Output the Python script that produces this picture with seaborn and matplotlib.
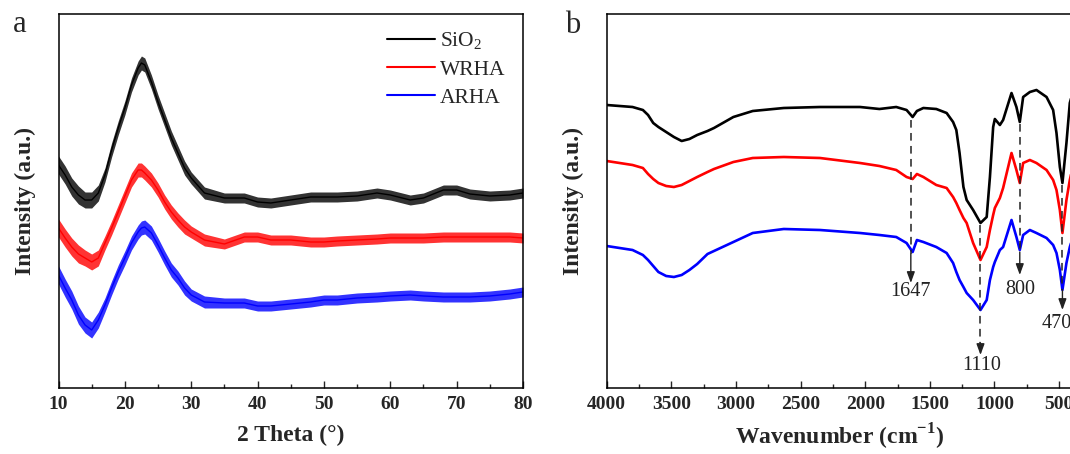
import numpy as np
import matplotlib
matplotlib.use('Agg')
import matplotlib.pyplot as plt
import seaborn as sns
from matplotlib.ticker import MultipleLocator

sns.set_theme(style='ticks')
plt.rcParams['font.family'] = ['Liberation Serif', 'DejaVu Serif']
plt.rcParams['mathtext.fontset'] = 'custom'
plt.rcParams['mathtext.rm'] = 'Liberation Serif'
plt.rcParams['mathtext.bf'] = 'Liberation Serif:bold'

# ---- XRD (panel a), intensity in arbitrary units ----
two_theta = [10, 11, 12, 13, 14, 15, 16, 17, 18, 19, 20, 21, 22, 22.5, 23, 24, 25, 26, 27, 28,
             29, 30, 32, 35, 38, 40, 42, 45, 48, 50, 52, 55, 58, 60, 63, 65, 68, 70, 72, 75,
             78, 80]
xrd_sio2 = [223, 213, 201, 193, 188, 188, 195, 213, 238, 260, 280, 303, 320, 325, 323, 306, 286, 268, 250, 235,
            220, 210, 195, 190, 190, 186, 185, 188, 191, 191, 191, 192, 195, 193, 188, 190, 198, 198, 194, 192,
            193, 195]
xrd_wrha = [160, 150, 141, 134, 130, 126, 130, 145, 160, 176, 192, 208, 218, 218, 215, 208, 198, 186, 176, 168,
            161, 156, 148, 144, 151, 151, 148, 148, 146, 146, 147, 148, 149, 150, 150, 150, 151, 151, 151, 151,
            151, 150]
xrd_arha = [113, 100, 88, 73, 63, 58, 68, 83, 100, 116, 130, 145, 156, 160, 161, 155, 143, 130, 118, 110,
            100, 93, 86, 85, 85, 82, 82, 84, 86, 88, 88, 90, 91, 92, 93, 92, 91, 91, 91, 92,
            94, 96]
# half height of the noisy band around each trace
xrd_spread = [9, 9, 9, 9, 8, 8, 8, 7, 7, 7, 7, 7, 7, 7, 7, 7, 7, 7, 7, 7,
              7, 6, 6, 5, 5, 5, 5, 5, 5, 5, 5, 5, 5, 5, 5, 5, 5, 5, 5, 5,
              5, 5]

# ---- FTIR (panel b) ----
wavenumber = [4000, 3800, 3720, 3680, 3640, 3600, 3540, 3480, 3420, 3360,
              3300, 3220, 3170, 3020, 2870, 2630, 2350, 2040, 1890, 1760,
              1680, 1633, 1600, 1550, 1450, 1370, 1320, 1295, 1270, 1240,
              1215, 1165, 1108, 1060, 1035, 1010, 997, 958, 933, 868,
              830, 804, 778, 726, 675, 597, 546, 520, 494, 474,
              443, 417, 400]
ftir_sio2 = [283, 281, 278, 273, 265, 261, 256, 251, 247, 249,
             253, 257, 260, 271, 277, 280, 281, 281, 279, 281,
             278, 271, 277, 280, 279, 275, 266, 258, 235, 201,
             188, 178, 165, 171, 211, 261, 269, 263, 268, 295,
             281, 266, 291, 296, 298, 291, 278, 255, 221, 205,
             245, 285, 293]
ftir_wrha = [227, 223, 220, 214, 209, 205, 202, 201, 203, 207,
             211, 216, 219, 226, 230, 231, 230, 225, 222, 218,
             211, 209, 214, 211, 203, 200, 191, 185, 178, 170,
             165, 145, 128, 141, 158, 173, 180, 190, 200, 235,
             218, 205, 225, 228, 225, 218, 208, 198, 178, 155,
             188, 208, 218]
ftir_arha = [142, 138, 133, 128, 122, 116, 112, 111, 113, 118,
             124, 134, 137, 146, 155, 159, 158, 155, 153, 151,
             145, 136, 148, 146, 141, 135, 125, 116, 108, 101,
             95, 88, 78, 88, 108, 121, 126, 138, 141, 168,
             151, 138, 153, 158, 155, 150, 143, 135, 118, 98,
             125, 141, 148]

# marked bands: label, dashed top, dashed end, arrow tip, label y, label x
band_labels = ['1647', '1110', '800', '470']
band_pos = [1647, 1108, 804, 474]
band_top = [268, 163, 264, 203]
band_dash_end = [134, 45, 136, 98]
band_tip = [105, 33, 113, 78]
band_text_y = [97, 22, 98, 65]
band_text_x = [1647, 1100, 804, 520]

names = ['SiO$_2$', 'WRHA', 'ARHA']
colors = ['black', '#ff0000', '#0000ff']

fig = plt.figure(figsize=(10.7, 4.54), dpi=100)
ax1 = fig.add_axes([58.5 / 1070, 66 / 454, 464.5 / 1070, 374 / 454])
ax2 = fig.add_axes([606.7 / 1070, 66 / 454, 465.3 / 1070, 374 / 454])

# panel a
for yy, name, c in zip([xrd_sio2, xrd_wrha, xrd_arha], names, colors):
    lo = np.array(yy) - np.array(xrd_spread)
    hi = np.array(yy) + np.array(xrd_spread)
    ax1.fill_between(two_theta, lo, hi, color=c, lw=0, alpha=0.8)
    sns.lineplot(x=two_theta, y=yy, ax=ax1, color=c, lw=1.0, label=name)

ax1.set_xlim(10, 80)
ax1.set_ylim(0, 374)
ax1.xaxis.set_major_locator(MultipleLocator(10))
ax1.xaxis.set_minor_locator(MultipleLocator(5))
ax1.set_xlabel('2 Theta (°)', fontsize=17, fontweight='bold', labelpad=8)
ax1.set_ylabel('Intensity (a.u.)', fontsize=17, fontweight='bold', labelpad=16)
leg = ax1.legend(loc='upper left', bbox_to_anchor=(0.685, 0.985), frameon=False,
                 fontsize=15.5, handlelength=2.2, handletextpad=0.25, labelspacing=0.36,
                 borderpad=0)
for h in leg.get_lines():
    h.set_linewidth(1.5)

# panel b
for yy, c in zip([ftir_sio2, ftir_wrha, ftir_arha], colors):
    sns.lineplot(x=wavenumber, y=yy, ax=ax2, color=c, lw=1.9)

for lab, xp, yt, yd, ytip, ty, tx in zip(band_labels, band_pos, band_top, band_dash_end,
                                         band_tip, band_text_y, band_text_x):
    ax2.plot([xp, xp], [yt, yd], color='#222222', lw=1.1, ls=(0, (5, 3.5)))
    ax2.annotate('', xy=(xp, ytip), xytext=(xp, yd),
                 arrowprops=dict(arrowstyle='-|>,head_length=0.55,head_width=0.2',
                                 color='#222222', lw=1.0, shrinkA=0, shrinkB=0))
    ax2.text(tx, ty, lab, ha='center', va='center', fontsize=14.5, color='#222222')

ax2.set_xlim(4000, 400)
ax2.set_ylim(0, 374)
ax2.xaxis.set_major_locator(MultipleLocator(500))
ax2.xaxis.set_minor_locator(MultipleLocator(250))
ax2.set_xlabel('Wavenumber (cm$^{\\mathbf{-1}}$)', fontsize=17, fontweight='bold', labelpad=6)
ax2.set_ylabel('Intensity (a.u.)', fontsize=17, fontweight='bold', labelpad=16)

for ax in (ax1, ax2):
    ax.set_yticks([])
    ax.tick_params(axis='x', which='major', direction='in', length=5, width=1.0,
                   labelsize=14, pad=6)
    ax.tick_params(axis='x', which='minor', direction='in', length=3, width=1.0)
    for lbl in ax.get_xticklabels():
        lbl.set_fontweight('bold')
    for sp in ax.spines.values():
        sp.set_linewidth(1.1)
        sp.set_color('black')

fig.text(13 / 1070, 1 - 32 / 454, 'a', fontsize=22)
fig.text(565 / 1070, 1 - 33 / 454, 'b', fontsize=22)

fig.savefig('out.png', dpi=100)
